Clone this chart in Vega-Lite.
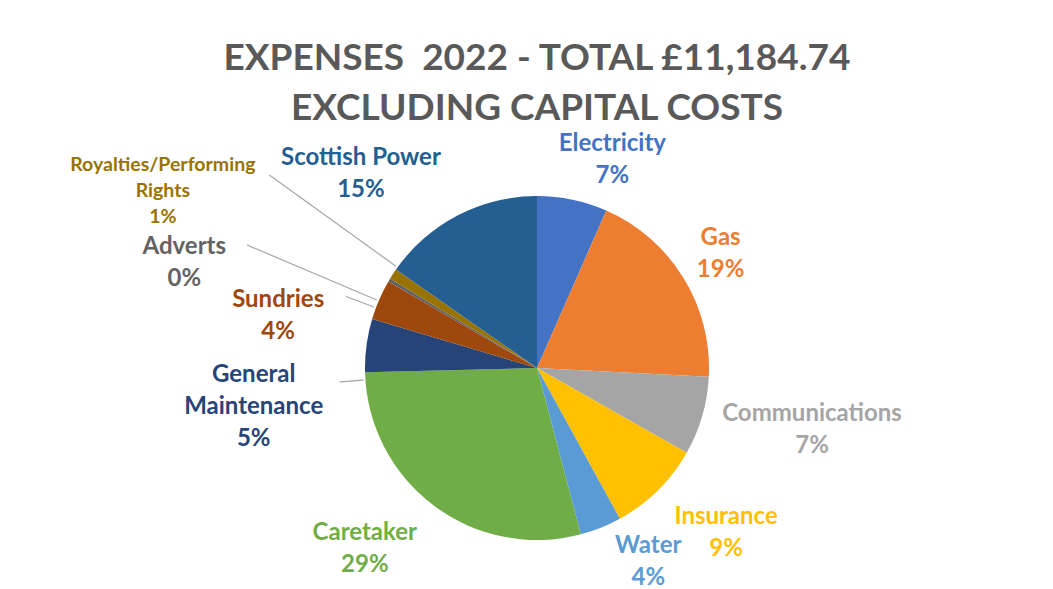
{
  "$schema": "https://vega.github.io/schema/vega-lite/v6.json",
  "width": 1026,
  "height": 442,
  "autosize": {"type": "none"},
  "padding": {"left": 24, "top": 147, "right": 3, "bottom": 0},
  "background": "white",
  "title": {
    "text": ["EXPENSES\u00a0 2022 - TOTAL £11,184.74", "EXCLUDING CAPITAL COSTS"],
    "font": "Lato",
    "fontSize": 37,
    "fontWeight": "bold",
    "color": "#595959",
    "lineHeight": 50,
    "anchor": "middle",
    "offset": 4
  },
  "config": {"view": {"stroke": null}},
  "data": {
    "values": [
      {"idx": 1, "category": "Electricity", "amount": 738.19, "label": "Electricity\n7%"},
      {"idx": 2, "category": "Gas", "amount": 2147.47, "label": "Gas\n19%"},
      {"idx": 3, "category": "Communications", "amount": 827.67, "label": "Communications\n7%"},
      {"idx": 4, "category": "Insurance", "amount": 984.26, "label": "Insurance\n9%"},
      {"idx": 5, "category": "Water", "amount": 436.20, "label": "Water\n4%"},
      {"idx": 6, "category": "Caretaker", "amount": 3210.02, "label": "Caretaker\n29%"},
      {"idx": 7, "category": "General Maintenance", "amount": 559.24, "label": "General\nMaintenance\n5%"},
      {"idx": 8, "category": "Sundries", "amount": 425.02, "label": "Sundries\n4%"},
      {"idx": 9, "category": "Adverts", "amount": 33.55, "label": "Adverts\n0%"},
      {"idx": 10, "category": "Royalties/Performing Rights", "amount": 111.85, "label": "Royalties/Performing\nRights\n1%"},
      {"idx": 11, "category": "Scottish Power", "amount": 1711.27, "label": "Scottish Power\n15%"}
    ]
  },
  "transform": [
    {"stack": "amount", "groupby": [], "sort": [{"field": "idx", "order": "ascending"}], "as": ["a0", "a1"]}
  ],
  "encoding": {
    "theta": {"field": "a0", "type": "quantitative", "scale": {"domain": [0, 11184.74]}},
    "color": {
      "field": "category",
      "type": "nominal",
      "legend": null,
      "scale": {
        "domain": ["Electricity", "Gas", "Communications", "Insurance", "Water", "Caretaker", "General Maintenance", "Sundries", "Adverts", "Royalties/Performing Rights", "Scottish Power"],
        "range": ["#4472C4", "#ED7D31", "#A5A5A5", "#FFC000", "#5B9BD5", "#70AD47", "#264478", "#9E480E", "#636363", "#997300", "#255E91"]
      }
    }
  },
  "layer": [
    {"mark": {"type": "arc", "outerRadius": 172}, "encoding": {"theta2": {"field": "a1"}}},
    {
      "transform": [{"filter": "datum.category === 'Royalties/Performing Rights'"}],
      "mark": {"type": "arc", "outerRadius": 330, "innerRadius": 174, "padAngle": 1, "fillOpacity": 0, "stroke": "#A6A6A6", "strokeWidth": 1.2, "thetaOffset": 0.0468, "theta2Offset": 0.0468},
      "encoding": {"theta2": {"field": "a1"}}
    },
    {
      "transform": [{"filter": "datum.category === 'Adverts'"}],
      "mark": {"type": "arc", "outerRadius": 315, "innerRadius": 174, "padAngle": 1, "fillOpacity": 0, "stroke": "#A6A6A6", "strokeWidth": 1.2, "thetaOffset": -0.136, "theta2Offset": -0.136},
      "encoding": {"theta2": {"field": "a1"}}
    },
    {
      "transform": [{"filter": "datum.category === 'Sundries'"}],
      "mark": {"type": "arc", "outerRadius": 204, "innerRadius": 174, "padAngle": 1, "fillOpacity": 0, "stroke": "#A6A6A6", "strokeWidth": 1.2, "thetaOffset": -0.0506, "theta2Offset": -0.0506},
      "encoding": {"theta2": {"field": "a1"}}
    },
    {
      "transform": [{"filter": "datum.category === 'General Maintenance'"}],
      "mark": {"type": "arc", "outerRadius": 198, "innerRadius": 174, "padAngle": 1, "fillOpacity": 0, "stroke": "#A6A6A6", "strokeWidth": 1.2, "thetaOffset": -0.2018, "theta2Offset": -0.2018},
      "encoding": {"theta2": {"field": "a1"}}
    },
    {
      "transform": [{"filter": "datum.category === 'Electricity'"}],
      "mark": {"type": "text", "radius": 221, "thetaOffset": 0.348, "dy": -16, "font": "Lato", "fontWeight": "bold", "fontSize": 24, "lineHeight": 32, "lineBreak": "\n", "align": "center", "baseline": "middle"},
      "encoding": {"text": {"field": "label", "type": "nominal"}}
    },
    {
      "transform": [{"filter": "datum.category === 'Gas'"}],
      "mark": {"type": "text", "radius": 216, "thetaOffset": 0.6014, "dy": -16, "font": "Lato", "fontWeight": "bold", "fontSize": 24, "lineHeight": 32, "lineBreak": "\n", "align": "center", "baseline": "middle"},
      "encoding": {"text": {"field": "label", "type": "nominal"}}
    },
    {
      "transform": [{"filter": "datum.category === 'Communications'"}],
      "mark": {"type": "text", "radius": 282, "thetaOffset": 0.1716, "dy": -16, "font": "Lato", "fontWeight": "bold", "fontSize": 24, "lineHeight": 32, "lineBreak": "\n", "align": "center", "baseline": "middle"},
      "encoding": {"text": {"field": "label", "type": "nominal"}}
    },
    {
      "transform": [{"filter": "datum.category === 'Insurance'"}],
      "mark": {"type": "text", "radius": 251, "thetaOffset": 0.2025, "dy": -16, "font": "Lato", "fontWeight": "bold", "fontSize": 24, "lineHeight": 32, "lineBreak": "\n", "align": "center", "baseline": "middle"},
      "encoding": {"text": {"field": "label", "type": "nominal"}}
    },
    {
      "transform": [{"filter": "datum.category === 'Water'"}],
      "mark": {"type": "text", "radius": 224, "thetaOffset": -0.0171, "dy": -16, "font": "Lato", "fontWeight": "bold", "fontSize": 24, "lineHeight": 32, "lineBreak": "\n", "align": "center", "baseline": "middle"},
      "encoding": {"text": {"field": "label", "type": "nominal"}}
    },
    {
      "transform": [{"filter": "datum.category === 'Caretaker'"}],
      "mark": {"type": "text", "radius": 250, "thetaOffset": 1.0175, "dy": -16, "font": "Lato", "fontWeight": "bold", "fontSize": 24, "lineHeight": 32, "lineBreak": "\n", "align": "center", "baseline": "middle"},
      "encoding": {"text": {"field": "label", "type": "nominal"}}
    },
    {
      "transform": [{"filter": "datum.category === 'General Maintenance'"}],
      "mark": {"type": "text", "radius": 286, "thetaOffset": -0.1119, "dy": -32, "font": "Lato", "fontWeight": "bold", "fontSize": 24, "lineHeight": 32, "lineBreak": "\n", "align": "center", "baseline": "middle"},
      "encoding": {"text": {"field": "label", "type": "nominal"}}
    },
    {
      "transform": [{"filter": "datum.category === 'Sundries'"}],
      "mark": {"type": "text", "radius": 264, "thetaOffset": -0.0909, "dy": -16, "font": "Lato", "fontWeight": "bold", "fontSize": 24, "lineHeight": 32, "lineBreak": "\n", "align": "center", "baseline": "middle"},
      "encoding": {"text": {"field": "label", "type": "nominal"}}
    },
    {
      "transform": [{"filter": "datum.category === 'Adverts'"}],
      "mark": {"type": "text", "radius": 368, "thetaOffset": -0.2386, "dy": -16, "font": "Lato", "fontWeight": "bold", "fontSize": 24, "lineHeight": 32, "lineBreak": "\n", "align": "center", "baseline": "middle"},
      "encoding": {"text": {"field": "label", "type": "nominal"}}
    },
    {
      "transform": [{"filter": "datum.category === 'Royalties/Performing Rights'"}],
      "mark": {"type": "text", "radius": 414, "thetaOffset": -0.1045, "dy": -26, "font": "Lato", "fontWeight": "bold", "fontSize": 19.5, "lineHeight": 26, "lineBreak": "\n", "align": "center", "baseline": "middle"},
      "encoding": {"text": {"field": "label", "type": "nominal"}}
    },
    {
      "transform": [{"filter": "datum.category === 'Scottish Power'"}],
      "mark": {"type": "text", "radius": 262, "thetaOffset": 0.2244, "dy": -16, "font": "Lato", "fontWeight": "bold", "fontSize": 24, "lineHeight": 32, "lineBreak": "\n", "align": "center", "baseline": "middle"},
      "encoding": {"text": {"field": "label", "type": "nominal"}}
    }
  ]
}
